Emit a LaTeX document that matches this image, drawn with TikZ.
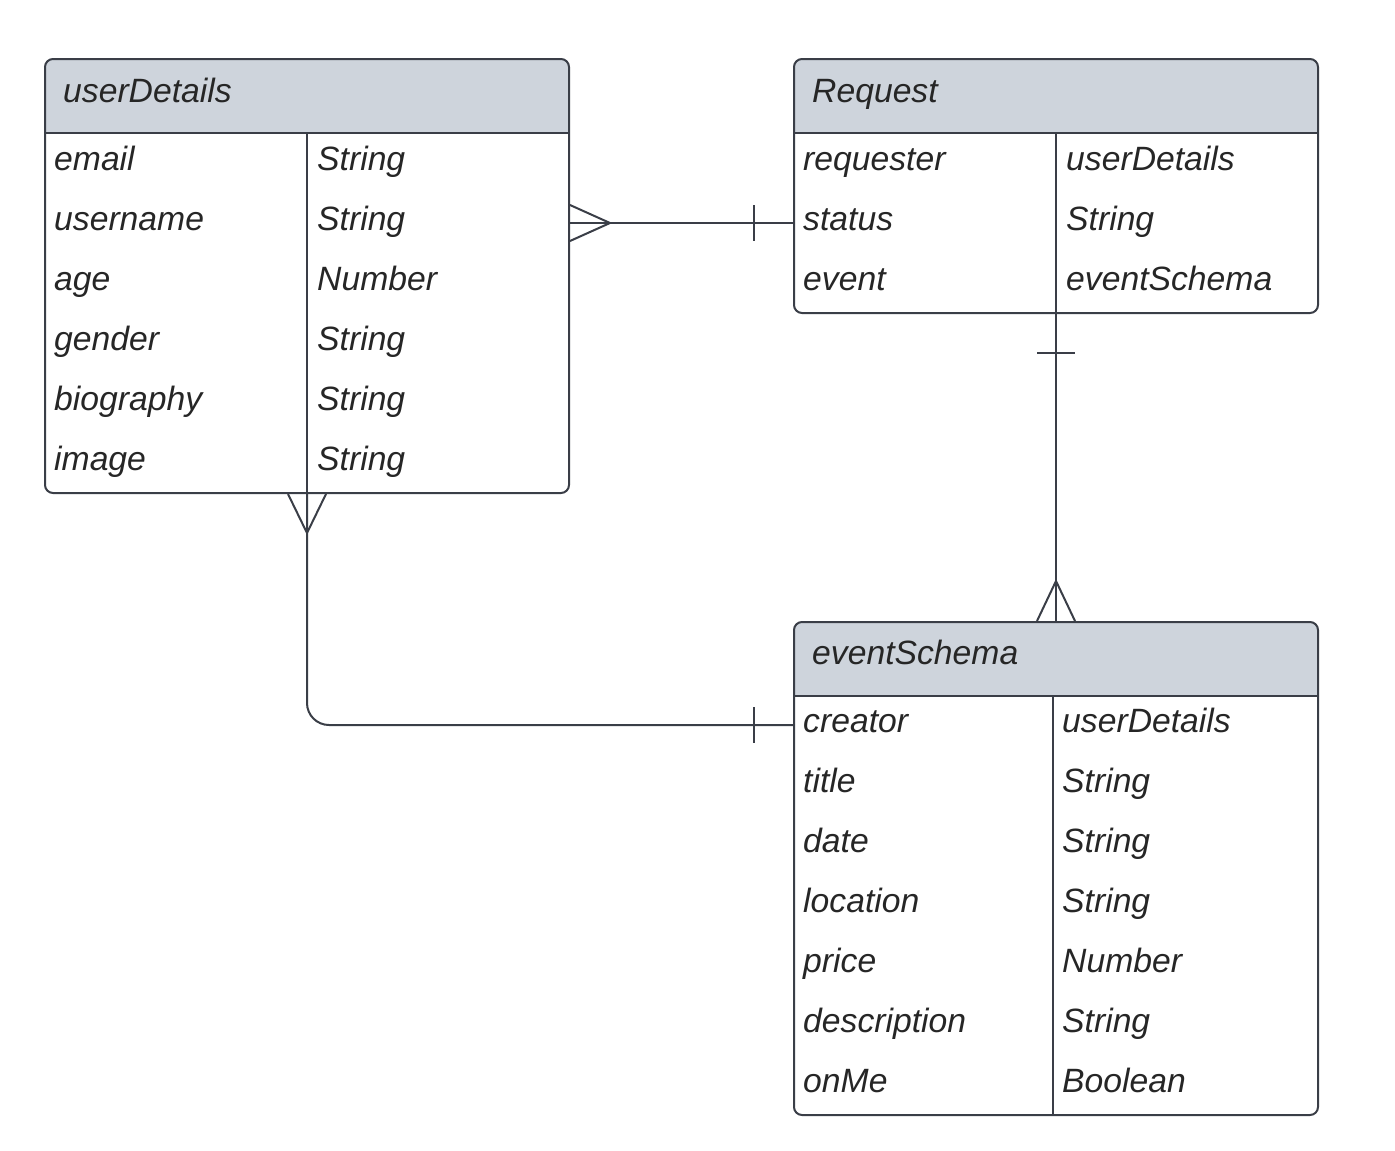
\documentclass[tikz,border=0pt]{standalone}
\usepackage{fontspec}
\setmainfont{Liberation Sans}
\definecolor{ln}{HTML}{3A3E47}
\definecolor{hd}{HTML}{CED4DC}
\definecolor{tx}{HTML}{262626}
\tikzset{
  tbl/.style={draw=ln, line width=2pt, rounded corners=8pt, inner sep=0pt, fill=none},
  fld/.style={anchor=base west, font=\fontsize{33.7}{40}\selectfont\itshape, text=tx, inner sep=0pt},
  rel/.style={draw=ln, line width=2pt},
  sep/.style={draw=ln, line width=2pt},
}
\begin{document}
\begin{tikzpicture}[x=1pt,y=-1pt]
\useasboundingbox (0,0) rectangle (1395,1151);
% header fills
\begin{scope}
  \clip (45,59) rectangle (569,133);
  \fill[hd, rounded corners=8pt] (45,59) rectangle (569,493);
\end{scope}
\begin{scope}
  \clip (794,59) rectangle (1318,133);
  \fill[hd, rounded corners=8pt] (794,59) rectangle (1318,313);
\end{scope}
\begin{scope}
  \clip (794,622) rectangle (1318,696);
  \fill[hd, rounded corners=8pt] (794,622) rectangle (1318,1115);
\end{scope}
% tables
\node[tbl, minimum width=524pt, minimum height=434pt] (ud) at (307,276) {};
\node[tbl, minimum width=524pt, minimum height=254pt] (rq) at (1056,186) {};
\node[tbl, minimum width=524pt, minimum height=493pt] (ev) at (1056,868.5) {};
\draw[sep] (45,133) -- (569,133);
\draw[sep] (307,133) -- (307,493);
\draw[sep] (794,133) -- (1318,133);
\draw[sep] (1056,133) -- (1056,313);
\draw[sep] (794,696) -- (1318,696);
\draw[sep] (1053,696) -- (1053,1115);
% userDetails text
\node[fld] (udh) at (63,102.5) {userDetails};
\node[fld] (ud1) at (54,170.5) {email};
\node[fld] (ud2) at (54,230.5) {username};
\node[fld] (ud3) at (54,290.5) {age};
\node[fld] (ud4) at (54,350.5) {gender};
\node[fld] (ud5) at (54,410.5) {biography};
\node[fld] (ud6) at (54,470.5) {image};
\node[fld] (ut1) at (317,170.5) {String};
\node[fld] (ut2) at (317,230.5) {String};
\node[fld] (ut3) at (317,290.5) {Number};
\node[fld] (ut4) at (317,350.5) {String};
\node[fld] (ut5) at (317,410.5) {String};
\node[fld] (ut6) at (317,470.5) {String};
% Request text
\node[fld] (rqh) at (812,102.5) {Request};
\node[fld] (rq1) at (803,170.5) {requester};
\node[fld] (rq2) at (803,230.5) {status};
\node[fld] (rq3) at (803,290.5) {event};
\node[fld] (rt1) at (1066,170.5) {userDetails};
\node[fld] (rt2) at (1066,230.5) {String};
\node[fld] (rt3) at (1066,290.5) {eventSchema};
% eventSchema text
\node[fld] (evh) at (812,664.5) {eventSchema};
\node[fld] (ev1) at (803,732.5) {creator};
\node[fld] (ev2) at (803,792.5) {title};
\node[fld] (ev3) at (803,852.5) {date};
\node[fld] (ev4) at (803,912.5) {location};
\node[fld] (ev5) at (803,972.5) {price};
\node[fld] (ev6) at (803,1032.5) {description};
\node[fld] (ev7) at (803,1092.5) {onMe};
\node[fld] (et1) at (1062,732.5) {userDetails};
\node[fld] (et2) at (1062,792.5) {String};
\node[fld] (et3) at (1062,852.5) {String};
\node[fld] (et4) at (1062,912.5) {String};
\node[fld] (et5) at (1062,972.5) {Number};
\node[fld] (et6) at (1062,1032.5) {String};
\node[fld] (et7) at (1062,1092.5) {Boolean};
% connectors
\coordinate (udR) at (ud.east |- 0,223);
\coordinate (rqL) at (rq.west |- 0,223);
\draw[rel] (udR) -- (rqL);
\draw[rel] ([yshift=18pt]udR) -- ([xshift=40pt]udR) -- ([yshift=-18pt]udR);
\draw[rel] ([xshift=-39pt,yshift=18pt]rqL) -- ([xshift=-39pt,yshift=-18pt]rqL);
\coordinate (rqB) at (rq.south);
\coordinate (evT) at (ev.north);
\draw[rel] (rqB) -- (evT);
\draw[rel] ([yshift=-39pt,xshift=-19pt]rqB) -- ([yshift=-39pt,xshift=19pt]rqB);
\draw[rel] ([xshift=-19pt]evT) -- ([yshift=40pt]evT) -- ([xshift=19pt]evT);
\coordinate (udB) at (ud.south);
\coordinate (evL) at (ev.west |- 0,725);
\draw[rel, rounded corners=22pt] (udB) |- (evL);
\draw[rel] ([xshift=-19pt]udB) -- ([yshift=-39pt]udB) -- ([xshift=19pt]udB);
\draw[rel] ([xshift=-39pt,yshift=18pt]evL) -- ([xshift=-39pt,yshift=-18pt]evL);
\end{tikzpicture}
\end{document}
